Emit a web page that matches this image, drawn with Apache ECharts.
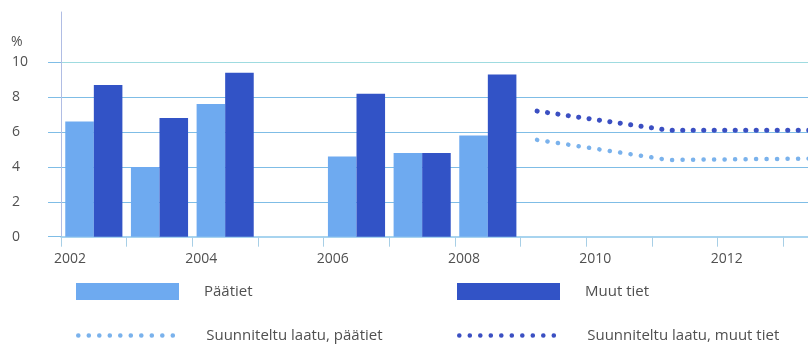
<!DOCTYPE html>
<html>
<head>
<meta charset="utf-8">
<script src="https://cdn.jsdelivr.net/npm/echarts@6/dist/echarts.min.js"></script>
<style>
  html, body { margin: 0; padding: 0; background: #fff; }
  #chart { width: 808px; height: 347px; }
</style>
</head>
<body>
<div id="chart"></div>
<script>
// Years on the bar axis
const years = ['2002', '2003', '2004', '2005', '2006', '2007', '2008', '2009', '2010', '2011', '2012', '2013'];
// Measured share, %
const paatiet = [6.6, 4.0, 7.6, null, 4.6, 4.8, 5.8, null, null, null, null, null];
const muutTiet = [8.7, 6.8, 9.4, null, 8.2, 4.8, 9.3, null, null, null, null, null];
// Planned level (x = year on a continuous axis)
const planYears = [2009.25, 2011.25, 2014];
const planPaatiet = [5.55, 4.4, 4.5];
const planMuut = [7.2, 6.1, 6.1];
// Y tick labels
const yTicks = [0, 2, 4, 6, 8, 10];

const FONT = 'Open Sans';
const TXT = '#505050';
const LIGHT = '#6eaaf0';
const DARK = '#3253c6';
const LIGHT_DOT = '#7ab2ec';
const DARK_DOT = '#3b4fc2';
const GRID = '#7fbde6';

const chart = echarts.init(document.getElementById('chart'), null, { renderer: 'canvas' });

const dotStyle = (color, w) => ({ color: color, width: w, type: [0.1, 10.4], cap: 'round' });

const legendBase = {
  itemWidth: 103,
  itemHeight: 17,
  itemGap: 0,
  padding: 0,
  selectedMode: false,
  textStyle: { fontFamily: FONT, fontSize: 15, color: TXT, padding: [0, 0, 0, 20] }
};

chart.setOption({
  animation: false,
  backgroundColor: '#fff',
  title: {
    text: '%', left: 11, top: 35, padding: 0,
    textStyle: { fontFamily: FONT, fontSize: 14, fontWeight: 'normal', color: TXT }
  },
  grid: { left: 61, right: -41, top: 12, bottom: 110.3, containLabel: false, outerBoundsMode: 'none' },
  legend: [
    Object.assign({}, legendBase, { data: [{ name: 'Päätiet', icon: 'rect' }], left: 76, top: 283 }),
    Object.assign({}, legendBase, { data: [{ name: 'Muut tiet', icon: 'rect' }], left: 457, top: 283 }),
    Object.assign({}, legendBase, {
      data: [{ name: 'Suunniteltu laatu, päätiet', itemStyle: { opacity: 0 } }], left: 76, top: 328,
      lineStyle: dotStyle(LIGHT_DOT, 4.5)
    }),
    Object.assign({}, legendBase, {
      data: [{ name: 'Suunniteltu laatu, muut tiet', itemStyle: { opacity: 0 } }], left: 457, top: 328,
      lineStyle: dotStyle(DARK_DOT, 4.5)
    })
  ],
  xAxis: [
    {
      type: 'category',
      data: years,
      boundaryGap: true,
      axisLine: { show: true, lineStyle: { color: '#8cc6ea', width: 1.5 } },
      axisTick: { show: true, length: 10, lineStyle: { color: '#a8cfe6', width: 1 } },
      axisLabel: { show: false },
      splitLine: { show: false }
    },
    {
      type: 'value',
      min: 2002,
      max: 2014,
      interval: 2,
      position: 'bottom',
      axisLine: { show: false },
      axisTick: { show: false },
      splitLine: { show: false },
      axisLabel: {
        show: true, margin: 15, padding: [0, 0, 0, 18],
        fontFamily: FONT, fontSize: 14, color: TXT,
        formatter: (v) => String(v)
      }
    }
  ],
  yAxis: {
    type: 'value',
    min: 0,
    max: 12.88,
    interval: 2,
    axisLine: { show: true, lineStyle: { color: '#b0bde4', width: 1 } },
    axisTick: { show: true, length: 13, customValues: yTicks, lineStyle: { color: GRID, width: 1 } },
    axisLabel: {
      show: true, align: 'left', margin: 49, customValues: yTicks,
      fontFamily: FONT, fontSize: 14, color: TXT,
      formatter: (v) => (v > 10 ? '' : String(v))
    },
    splitLine: {
      show: true,
      lineStyle: { color: ['transparent', GRID, GRID, GRID, GRID, '#9fdbe0', 'transparent'], width: 1.2 }
    }
  },
  series: [
    {
      name: 'Päätiet', type: 'bar', xAxisIndex: 0, data: paatiet,
      itemStyle: { color: LIGHT }, barGap: '0%', barCategoryGap: '13%'
    },
    {
      name: 'Muut tiet', type: 'bar', xAxisIndex: 0, data: muutTiet,
      itemStyle: { color: DARK }, barGap: '0%', barCategoryGap: '13%'
    },
    {
      name: 'Suunniteltu laatu, päätiet', type: 'line', xAxisIndex: 1,
      data: planYears.map((x, i) => [x, planPaatiet[i]]),
      symbol: 'none', showSymbol: false, itemStyle: { color: LIGHT_DOT },
      lineStyle: dotStyle(LIGHT_DOT, 4.5)
    },
    {
      name: 'Suunniteltu laatu, muut tiet', type: 'line', xAxisIndex: 1,
      data: planYears.map((x, i) => [x, planMuut[i]]),
      symbol: 'none', showSymbol: false, itemStyle: { color: DARK_DOT },
      lineStyle: dotStyle(DARK_DOT, 5)
    }
  ]
});
</script>
</body>
</html>
